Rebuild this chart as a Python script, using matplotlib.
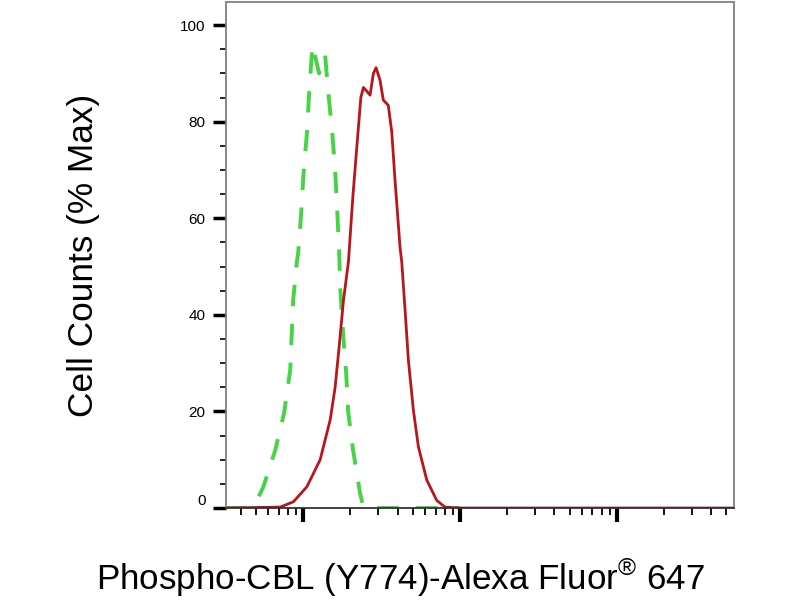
import matplotlib
matplotlib.use("Agg")
import matplotlib.pyplot as plt
from matplotlib.ticker import LogLocator, NullFormatter, MultipleLocator

plt.rcParams['font.family'] = ['Liberation Sans', 'DejaVu Sans']
plt.rcParams['mathtext.fontset'] = 'custom'
plt.rcParams['mathtext.rm'] = 'Liberation Sans'

# isotype control (green dashed)
ctrl_x = [3.2, 4.5, 5.07, 5.56, 6.64, 7.56, 8.27, 8.63, 9.12, 9.29, 9.71, 10.04,
          10.56, 10.92, 11.46, 12.64, 13.80, 14.42, 15.30, 15.99, 16.48, 16.95,
          17.21, 17.99, 18.80, 19.36, 20.81, 23.07, 24.10, 26.72, 100]
ctrl_y = [0, 0, 1.6, 4.3, 12, 19.7, 28.6, 43, 51, 52.8, 61, 69,
          77.6, 86, 95.9, 90, 93.8, 86.5, 78, 70, 61.7, 53.4,
          45.8, 36, 28, 20, 12, 3, 0.5, 0, 0]

# Phospho-CBL (Y774) stained (red)
stain_x = [3.2, 7.15, 8.67, 10.56, 12.83, 14.86, 15.99, 17.03, 18.07, 19.44,
           20.75, 21.99, 23.32, 24.23, 25.18, 26.72, 28.05, 29.17, 30.92, 32.44,
           34.90, 36.71, 38.52, 41.48, 42.53, 44.67, 46.90, 50.46, 54.31, 61.43,
           71.05, 80.2, 100, 5600]
stain_y = [0, 0.2, 1.3, 4.4, 10, 18.2, 25, 34, 43, 51,
           64.5, 74.8, 85, 87.1, 86.5, 85.5, 90, 91.2, 88.6, 84.5,
           83.4, 78, 68, 54, 51, 41, 30.6, 20.3, 12.7, 5.8,
           1.6, 0.2, 0, 0]

y_ticks = [0, 20, 40, 60, 80, 100]

fig = plt.figure(figsize=(8, 6), dpi=100)
ax = fig.add_axes([0.282, 0.1533, 0.6355, 0.8434])

ax.plot(ctrl_x, ctrl_y, color='#44d444', lw=2.8, dashes=(5.5, 4.5))
ax.plot(stain_x, stain_y, color='#b8161b', lw=2)

ax.set_xscale('log')
ax.set_xlim(3.2, 5600)
ax.set_ylim(0, 104.8)

ax.xaxis.set_major_locator(LogLocator(base=10, numticks=10))
ax.xaxis.set_minor_locator(LogLocator(base=10, subs=range(2, 10), numticks=20))
ax.xaxis.set_major_formatter(NullFormatter())
ax.xaxis.set_minor_formatter(NullFormatter())

ax.set_yticks(y_ticks)
ax.yaxis.set_minor_locator(MultipleLocator(5))
ax.set_yticklabels([str(v) for v in y_ticks], fontsize=11)

ax.tick_params(axis='x', which='major', direction='out', length=10, width=3, color='black')
ax.tick_params(axis='x', which='minor', direction='out', length=5, width=1.3, color='black')
ax.tick_params(axis='y', which='major', direction='out', length=9.5, width=2.5, color='black', pad=5)
ax.tick_params(axis='y', which='minor', direction='out', length=4, width=1.2, color='black')

for lab in ax.get_yticklabels():
    if lab.get_text() == '0':
        lab.set_va('bottom')

for side in ['top', 'right', 'left']:
    ax.spines[side].set_color('#808080')
    ax.spines[side].set_linewidth(1.3)
ax.spines['bottom'].set_color('#333333')
ax.spines['bottom'].set_linewidth(1.3)

fig.text(0.104, 0.575, 'Cell Counts (% Max)', rotation=90, fontsize=25.4,
         ha='center', va='center')
fig.text(0.501, 0.037, 'Phospho-CBL (Y774)-Alexa Fluor$^{®}$ 647', fontsize=25.2,
         ha='center', va='center')

fig.savefig('out.png', dpi=100)
